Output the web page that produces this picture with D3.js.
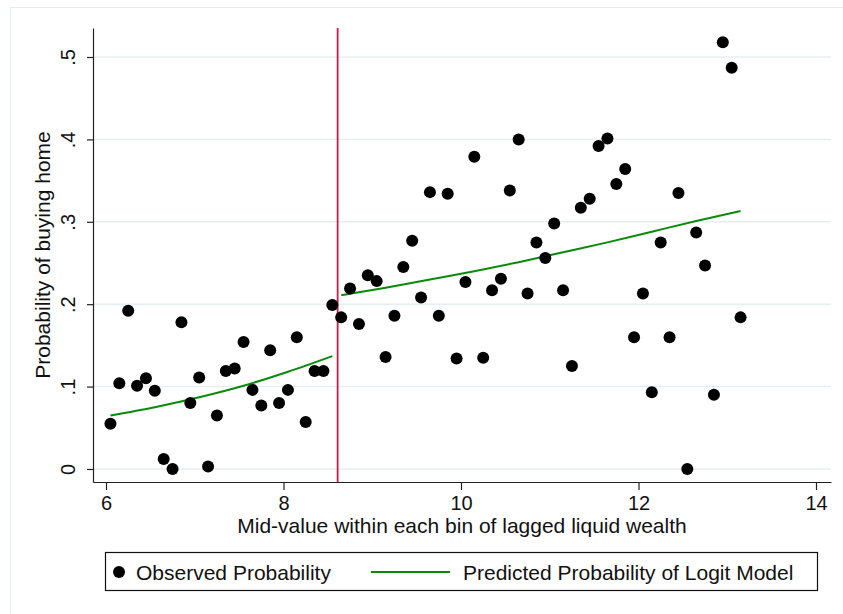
<!DOCTYPE html>
<html>
<head>
<meta charset="utf-8">
<script src="https://cdn.jsdelivr.net/npm/d3@7"></script>
<style>
  html, body { margin: 0; padding: 0; background: #fff; }
  svg { display: block; font-family: "Liberation Sans", Arial, Helvetica, sans-serif; }
</style>
</head>
<body>
<svg id="chart" width="843" height="614"></svg>
<script>
// ---- Data ----
const binMid = [6.05,6.15,6.25,6.35,6.45,6.55,6.65,6.75,6.85,6.95,7.05,7.15,7.25,7.35,7.45,7.55,7.65,7.75,7.85,7.95,
  8.05,8.15,8.25,8.35,8.45,8.55,8.65,8.75,8.85,8.95,9.05,9.15,9.25,9.35,9.45,9.55,9.65,9.75,9.85,9.95,
  10.05,10.15,10.25,10.35,10.45,10.55,10.65,10.75,10.85,10.95,11.05,11.15,11.25,11.35,11.45,11.55,11.65,11.75,11.85,11.95,
  12.05,12.15,12.25,12.35,12.45,12.55,12.65,12.75,12.85,12.95,13.05,13.15];
const observedProb = [0.055,0.104,0.192,0.101,0.110,0.095,0.012,0.000,0.178,0.080,0.111,0.003,0.065,0.119,0.122,0.154,0.096,0.077,0.144,0.080,
  0.096,0.160,0.057,0.119,0.119,0.199,0.184,0.219,0.176,0.235,0.228,0.136,0.186,0.245,0.277,0.208,0.336,0.186,0.334,0.134,
  0.227,0.379,0.135,0.217,0.231,0.338,0.400,0.213,0.275,0.256,0.298,0.217,0.125,0.317,0.328,0.392,0.401,0.346,0.364,0.160,
  0.213,0.093,0.275,0.160,0.335,0.000,0.287,0.247,0.090,0.518,0.487,0.184];

// Predicted probability of logit model (two segments, split at the threshold)
const predLeftX  = [6.05, 6.55, 7.05, 7.55, 8.05, 8.55];
const predLeftY  = [0.065, 0.075, 0.087, 0.101, 0.118, 0.137];
const predRightX = [8.65, 9.15, 9.65, 10.15, 10.65, 11.15, 11.65, 12.15, 12.65, 13.15];
const predRightY = [0.211, 0.220, 0.230, 0.240, 0.251, 0.263, 0.275, 0.288, 0.301, 0.313];

const threshold = 8.61;

const xTicks = [6, 8, 10, 12, 14];
const yTicks = [0, 0.1, 0.2, 0.3, 0.4, 0.5];
const yTickLabels = ["0", ".1", ".2", ".3", ".4", ".5"];

const xTitle = "Mid-value within each bin of lagged liquid wealth";
const yTitle = "Probability of buying home";
const legendLabels = ["Observed Probability", "Predicted Probability of Logit Model"];

// ---- Layout ----
const svg = d3.select("#chart");
const pLeft = 93, pRight = 831, pTop = 28, pBottom = 482;

const x = d3.scaleLinear().domain([5.8535, 14.169]).range([pLeft, pRight]);
const y = d3.scaleLinear().domain([-0.0158, 0.5352]).range([pBottom, pTop]);

// outer faint frame
svg.append("rect").attr("x", 10.5).attr("y", 7.5).attr("width", 840).attr("height", 620)
  .attr("fill", "#fff").attr("stroke", "#e6ebee").attr("stroke-width", 1);

// gridlines
svg.append("g").selectAll("line").data(yTicks).join("line")
  .attr("x1", pLeft).attr("x2", pRight)
  .attr("y1", d => y(d)).attr("y2", d => y(d))
  .attr("stroke", "#e7eef1").attr("stroke-width", 1.5);

// threshold line
svg.append("line")
  .attr("x1", x(threshold)).attr("x2", x(threshold))
  .attr("y1", pTop).attr("y2", pBottom)
  .attr("stroke", "#cc1d4a").attr("stroke-width", 1.8);

// predicted lines
const lineGen = d3.line().x(d => x(d[0])).y(d => y(d[1])).curve(d3.curveMonotoneX);
[[predLeftX, predLeftY], [predRightX, predRightY]].forEach(([xs, ys]) => {
  svg.append("path")
    .attr("d", lineGen(xs.map((v, i) => [v, ys[i]])))
    .attr("fill", "none").attr("stroke", "#0a8a0a").attr("stroke-width", 2);
});

// points
svg.append("g").selectAll("circle").data(binMid).join("circle")
  .attr("cx", d => x(d))
  .attr("cy", (d, i) => y(observedProb[i]))
  .attr("r", 6).attr("fill", "#000");

// axes
const xAxis = svg.append("g").attr("transform", `translate(0,${pBottom})`)
  .call(d3.axisBottom(x).tickValues(xTicks).tickSize(8).tickSizeOuter(0).tickFormat(d3.format("d")));
xAxis.select(".domain").attr("stroke", "#222").attr("stroke-width", 1.2);
xAxis.selectAll(".tick line").attr("stroke", "#222").attr("stroke-width", 1.2);
xAxis.selectAll(".tick text").attr("y", 28).attr("dy", 0)
  .attr("font-size", 20).attr("fill", "#111").attr("font-family", "Liberation Sans, Arial, sans-serif");

const yAxis = svg.append("g").attr("transform", `translate(${pLeft},0)`)
  .call(d3.axisLeft(y).tickValues(yTicks).tickSize(6).tickSizeOuter(0).tickFormat((d, i) => yTickLabels[i]));
yAxis.select(".domain").attr("stroke", "#222").attr("stroke-width", 1.2);
yAxis.selectAll(".tick line").attr("stroke", "#222").attr("stroke-width", 1.2);
yAxis.selectAll(".tick text")
  .attr("x", 0).attr("dy", 0).attr("text-anchor", "middle")
  .attr("transform", "translate(-18,0) rotate(-90)")
  .attr("font-size", 20).attr("fill", "#111").attr("font-family", "Liberation Sans, Arial, sans-serif");

// axis titles
svg.append("text").attr("x", (pLeft + pRight) / 2).attr("y", 533)
  .attr("text-anchor", "middle").attr("font-size", 21).attr("fill", "#111")
  .text(xTitle);
svg.append("text")
  .attr("transform", `translate(50,${(pTop + pBottom) / 2}) rotate(-90)`)
  .attr("text-anchor", "middle").attr("font-size", 21).attr("fill", "#111")
  .text(yTitle);

// legend
const lg = svg.append("g");
lg.append("rect").attr("x", 105.5).attr("y", 552.5).attr("width", 712).attr("height", 38)
  .attr("fill", "#fff").attr("stroke", "#111").attr("stroke-width", 1.2);
lg.append("circle").attr("cx", 119).attr("cy", 572).attr("r", 6).attr("fill", "#000");
lg.append("text").attr("x", 136).attr("y", 580).attr("font-size", 21).attr("fill", "#111").text(legendLabels[0]);
lg.append("line").attr("x1", 371).attr("x2", 450).attr("y1", 572).attr("y2", 572)
  .attr("stroke", "#0a8a0a").attr("stroke-width", 2);
lg.append("text").attr("x", 463).attr("y", 580).attr("font-size", 21).attr("fill", "#111").text(legendLabels[1]);
</script>
</body>
</html>
